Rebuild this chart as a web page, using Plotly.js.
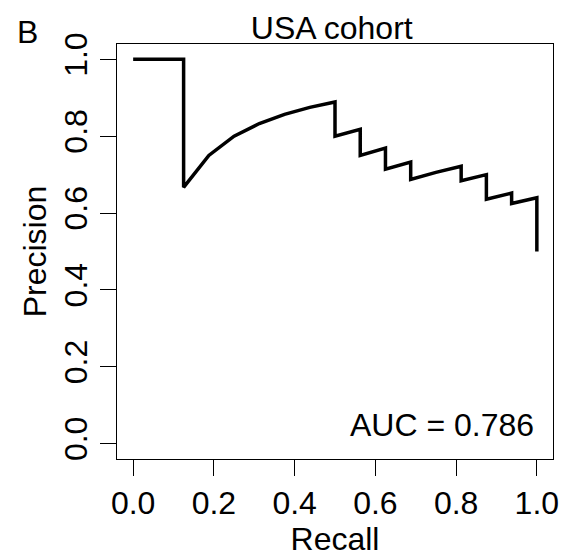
<!DOCTYPE html>
<html>
<head>
<meta charset="utf-8">
<script src="https://cdn.plot.ly/plotly-3.0.1.min.js"></script>
<style>html,body{margin:0;padding:0;background:#fff;}#chart{width:574px;height:559px;}</style>
</head>
<body>
<div id="chart"></div>
<script>
// Precision-recall curve, USA cohort
var recall = [0, 0.0625, 0.125, 0.125, 0.1875, 0.25, 0.3125, 0.375, 0.4375, 0.5, 0.5, 0.5625, 0.5625, 0.625, 0.625, 0.6875, 0.6875, 0.75, 0.8125, 0.8125, 0.875, 0.875, 0.9375, 0.9375, 1.0, 1.0];
var precision = [1, 1, 1, 0.667, 0.75, 0.8, 0.833, 0.857, 0.875, 0.889, 0.8, 0.818, 0.75, 0.769, 0.714, 0.733, 0.6875, 0.706, 0.722, 0.684, 0.7, 0.636, 0.652, 0.625, 0.64, 0.5];
var xTicks = [0, 0.2, 0.4, 0.6, 0.8, 1.0];
var xTickLabels = ["0.0", "0.2", "0.4", "0.6", "0.8", "1.0"];
var yTicks = [0, 0.2, 0.4, 0.6, 0.8, 1.0];
var yTickLabels = ["0.0", "0.2", "0.4", "0.6", "0.8", "1.0"];
var chartTitle = "USA cohort";
var panelLabel = "B";
var aucText = "AUC = 0.786";

var FONT = "Liberation Sans, Arial, sans-serif";
var FS = 32;

var trace = {
  x: recall, y: precision, type: "scatter", mode: "lines",
  line: {color: "#000", width: 3.5},
  hoverinfo: "skip"
};

var axisCommon = {
  showgrid: false, zeroline: false,
  showline: true, mirror: true, linecolor: "#000", linewidth: 1,
  ticks: "outside", ticklen: 16, tickwidth: 1, tickcolor: "#000",
  tickfont: {family: FONT, size: FS, color: "#000"},
  fixedrange: true
};

var layout = {
  width: 574, height: 559,
  paper_bgcolor: "#fff", plot_bgcolor: "#fff",
  margin: {l: 117, r: 21, t: 44, b: 100},
  showlegend: false,
  font: {family: FONT, size: FS, color: "#000"},
  title: {text: chartTitle, font: {family: FONT, size: FS, color: "#000"},
          x: 0.578, xref: "container", xanchor: "center",
          y: 0.951, yref: "container", yanchor: "middle"},
  xaxis: Object.assign({}, axisCommon, {
    range: [-0.04, 1.04], tickvals: xTicks, ticktext: xTickLabels,
    title: {text: "Recall", font: {family: FONT, size: FS, color: "#000"}, standoff: 4},
    automargin: false
  }),
  yaxis: Object.assign({}, axisCommon, {
    range: [-0.04, 1.04], tickvals: yTicks, ticktext: yTickLabels,
    tickangle: -90,
    title: {text: "Precision", font: {family: FONT, size: FS, color: "#000"}, standoff: 2},
    automargin: false
  }),
  annotations: [
    {text: panelLabel, xref: "paper", yref: "paper", x: -0.206, y: 1.03,
     xanchor: "center", yanchor: "middle", showarrow: false,
     font: {family: FONT, size: FS, color: "#000"}},
    {text: aucText, xref: "paper", yref: "paper", x: 0.960, y: 0.081,
     xanchor: "right", yanchor: "middle", showarrow: false,
     font: {family: FONT, size: FS, color: "#000"}}
  ]
};

Plotly.newPlot("chart", [trace], layout, {displayModeBar: false, staticPlot: true});
</script>
</body>
</html>
